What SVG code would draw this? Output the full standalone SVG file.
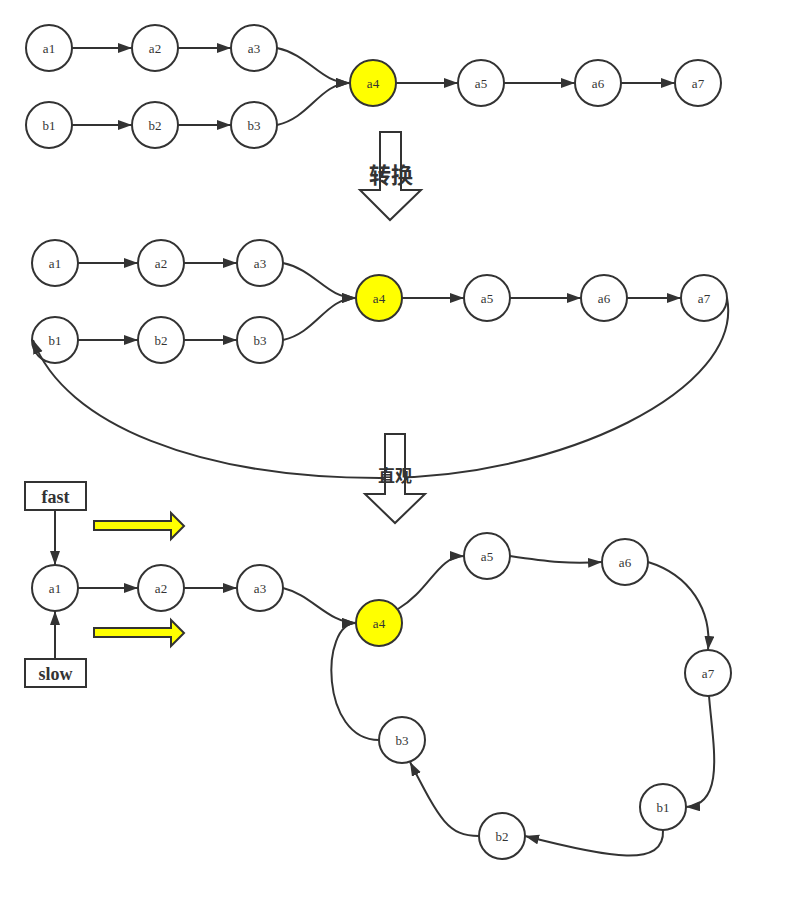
<svg xmlns="http://www.w3.org/2000/svg" width="790" height="909" viewBox="0 0 790 909">
<defs>
<marker id="ah" markerUnits="userSpaceOnUse" markerWidth="16" markerHeight="12" refX="14" refY="5" orient="auto">
<path d="M0,0 L14,5 L0,10 z" fill="#333"/>
</marker>
</defs>
<style>
.n circle{fill:#fff;stroke:#333;stroke-width:2}
.n.y circle{fill:#ffff00}
.n text{font-family:"Liberation Serif",serif;font-size:13px;fill:#333;text-anchor:middle;dominant-baseline:central}
.e path{fill:none;stroke:#333;stroke-width:2;marker-end:url(#ah)}
.box rect{fill:#fff;stroke:#333;stroke-width:2}
.box text{font-family:"Liberation Serif",serif;font-size:18px;font-weight:bold;fill:#333;text-anchor:middle;dominant-baseline:central}
.big{fill:#fff;stroke:#333;stroke-width:2}
.yl{fill:#ffff00;stroke:#333;stroke-width:2}
.lbl{font-family:"Liberation Sans","Noto Sans CJK SC",sans-serif;fill:#333;text-anchor:middle;dominant-baseline:central;font-weight:bold}
</style>
<rect width="790" height="909" fill="#fff"/>

<!-- section 1 nodes -->
<g id="s1-a1" class="n"><circle cx="49" cy="48" r="23"/><text x="49" y="48">a1</text></g>
<g id="s1-a2" class="n"><circle cx="155" cy="48" r="23"/><text x="155" y="48">a2</text></g>
<g id="s1-a3" class="n"><circle cx="254" cy="48" r="23"/><text x="254" y="48">a3</text></g>
<g id="s1-a4" class="n y"><circle cx="373" cy="83" r="23"/><text x="373" y="83">a4</text></g>
<g id="s1-a5" class="n"><circle cx="481" cy="83" r="23"/><text x="481" y="83">a5</text></g>
<g id="s1-a6" class="n"><circle cx="598" cy="83" r="23"/><text x="598" y="83">a6</text></g>
<g id="s1-a7" class="n"><circle cx="698" cy="83" r="23"/><text x="698" y="83">a7</text></g>
<g id="s1-b1" class="n"><circle cx="49" cy="125" r="23"/><text x="49" y="125">b1</text></g>
<g id="s1-b2" class="n"><circle cx="155" cy="125" r="23"/><text x="155" y="125">b2</text></g>
<g id="s1-b3" class="n"><circle cx="254" cy="125" r="23"/><text x="254" y="125">b3</text></g>

<!-- section 2 nodes -->
<g id="s2-a1" class="n"><circle cx="55" cy="263" r="23"/><text x="55" y="263">a1</text></g>
<g id="s2-a2" class="n"><circle cx="161" cy="263" r="23"/><text x="161" y="263">a2</text></g>
<g id="s2-a3" class="n"><circle cx="260" cy="263" r="23"/><text x="260" y="263">a3</text></g>
<g id="s2-a4" class="n y"><circle cx="379" cy="298" r="23"/><text x="379" y="298">a4</text></g>
<g id="s2-a5" class="n"><circle cx="487" cy="298" r="23"/><text x="487" y="298">a5</text></g>
<g id="s2-a6" class="n"><circle cx="604" cy="298" r="23"/><text x="604" y="298">a6</text></g>
<g id="s2-a7" class="n"><circle cx="704" cy="298" r="23"/><text x="704" y="298">a7</text></g>
<g id="s2-b1" class="n"><circle cx="55" cy="340" r="23"/><text x="55" y="340">b1</text></g>
<g id="s2-b2" class="n"><circle cx="161" cy="340" r="23"/><text x="161" y="340">b2</text></g>
<g id="s2-b3" class="n"><circle cx="260" cy="340" r="23"/><text x="260" y="340">b3</text></g>

<!-- section 3 -->
<g id="fast" class="box"><rect x="25" y="482" width="61" height="28"/><text x="55.5" y="497">fast</text></g>
<g id="slow" class="box"><rect x="25" y="659" width="61" height="28"/><text x="55.5" y="674">slow</text></g>
<g id="yellow-arrow-1"><path class="yl" d="M94,521 L171,521 L171,513 L184,526 L171,539 L171,530 L94,530 Z"/></g>
<g id="yellow-arrow-2"><path class="yl" d="M94,628 L171,628 L171,620 L184,633 L171,646 L171,637 L94,637 Z"/></g>
<g id="s3-a1" class="n"><circle cx="55" cy="588" r="23"/><text x="55" y="588">a1</text></g>
<g id="s3-a2" class="n"><circle cx="161" cy="588" r="23"/><text x="161" y="588">a2</text></g>
<g id="s3-a3" class="n"><circle cx="260" cy="588" r="23"/><text x="260" y="588">a3</text></g>
<g id="s3-a4" class="n y"><circle cx="379" cy="623" r="23"/><text x="379" y="623">a4</text></g>
<g id="s3-a5" class="n"><circle cx="487" cy="556" r="23"/><text x="487" y="556">a5</text></g>
<g id="s3-a6" class="n"><circle cx="625" cy="562" r="23"/><text x="625" y="562">a6</text></g>
<g id="s3-a7" class="n"><circle cx="708" cy="673" r="23"/><text x="708" y="673">a7</text></g>
<g id="s3-b1" class="n"><circle cx="663" cy="807" r="23"/><text x="663" y="807">b1</text></g>
<g id="s3-b2" class="n"><circle cx="502" cy="836" r="23"/><text x="502" y="836">b2</text></g>
<g id="s3-b3" class="n"><circle cx="402" cy="740" r="23"/><text x="402" y="740">b3</text></g>

<g id="connectors" class="e">
<!-- section 1 -->
<path d="M72,48 L132,48"/>
<path d="M178,48 L231,48"/>
<path d="M277,48 C310,55 320,83 350,83"/>
<path d="M72,125 L132,125"/>
<path d="M178,125 L231,125"/>
<path d="M277,125 C310,118 320,83 350,83"/>
<path d="M396,83 L458,83"/>
<path d="M504,83 L575,83"/>
<path d="M621,83 L675,83"/>
<!-- section 2 -->
<path d="M78,263 L138,263"/>
<path d="M184,263 L237,263"/>
<path d="M283,263 C316,270 326,298 356,298"/>
<path d="M78,340 L138,340"/>
<path d="M184,340 L237,340"/>
<path d="M283,340 C316,333 326,298 356,298"/>
<path d="M402,298 L464,298"/>
<path d="M510,298 L581,298"/>
<path d="M627,298 L681,298"/>
<path d="M727,298 C745,390 560,478 380,478 C200,478 65,425 33,340"/>
<!-- section 3 -->
<path d="M55,510 L55,565"/>
<path d="M55,659 L55,611"/>
<path d="M78,588 L138,588"/>
<path d="M184,588 L237,588"/>
<path d="M283,588 C312,595 328,623 356,623"/>
<path d="M398,609 C430,590 438,556 464,556"/>
<path d="M510,556 C550,562 570,564 602,562"/>
<path d="M648,562 C690,575 712,610 708,650"/>
<path d="M709,696 C713,745 726,805 686,807"/>
<path d="M663,830 C665,868 610,858 525,836"/>
<path d="M479,836 C448,836 440,820 410,762"/>
<path d="M379,740 C320,740 320,623 356,623"/>
</g>

<g id="arrow-convert">
<path class="big" d="M380,132 L401,132 L401,190 L421,190 L390,220 L360,190 L380,190 Z"/>
<text class="lbl" x="391" y="175" font-size="22">转换</text>
</g>
<g id="arrow-intuitive">
<path class="big" d="M385,434 L405,434 L405,494 L425,494 L395,523 L365,494 L385,494 Z"/>
<text class="lbl" x="395" y="476" font-size="17">直观</text>
</g>
</svg>
